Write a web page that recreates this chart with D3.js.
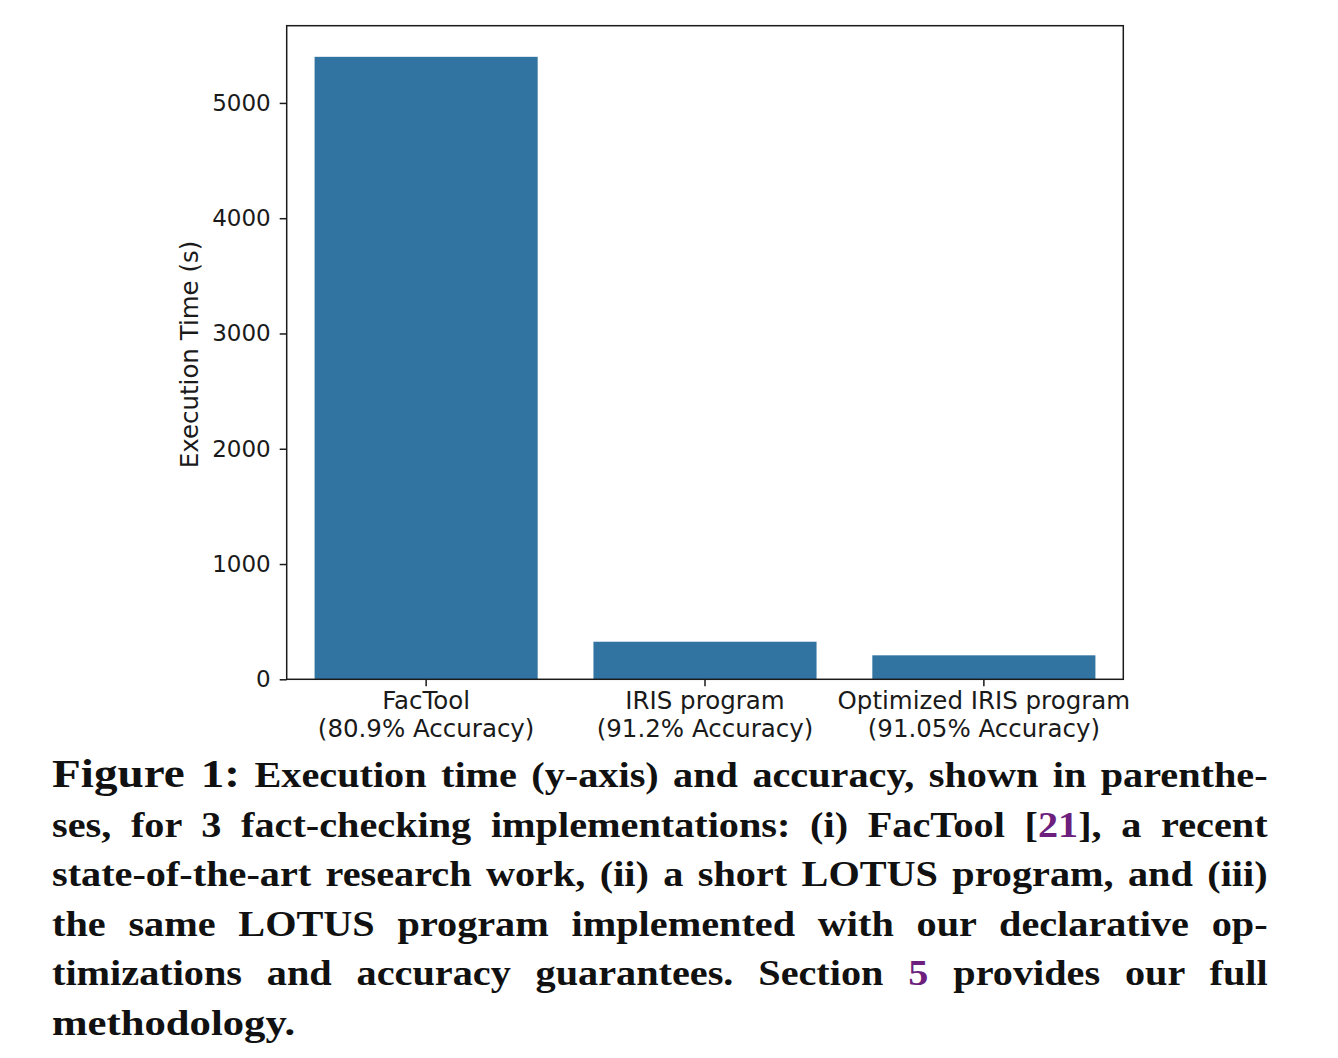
<!DOCTYPE html>
<html>
<head>
<meta charset="utf-8">
<script src="https://cdn.jsdelivr.net/npm/d3@7"></script>
<style>
    body { margin: 0; background: white; }
    svg { display: block; }
</style>
</head>
<body>
<div id="container"></div>
<script>
// chart values
const categories = ["FacTool", "IRIS program", "Optimized IRIS program"]
const accuracies = ["80.9%", "91.2%", "91.05%"]
const execTimes = [5400, 326, 208]
const yTicks = [0, 1000, 2000, 3000, 4000, 5000]

// caption, one entry per printed line; [text, style] pieces
const captionLines = [
    [["Figure 1:", "fig"], [" Execution time (y-axis) and accuracy, shown in parenthe-", ""]],
    [["ses, for 3 fact-checking implementations: (i) FacTool [", ""], ["21", "ref"], ["], a recent", ""]],
    [["state-of-the-art research work, (ii) a short LOTUS program, and (iii)", ""]],
    [["the same LOTUS program implemented with our declarative op-", ""]],
    [["timizations and accuracy guarantees. Section ", ""], ["5", "ref"], [" provides our full", ""]],
    [["methodology.", ""]]
]

const w = 1338
const h = 1058
const plotLeft = 286.7
const plotRight = 1123.3
const plotTop = 25.7
const plotBottom = 679.3
const tickFont = 23
const labelFont = 24.5
const ink = "#1a1a1a"

const svg = d3.select("#container")
    .append("svg")
    .attr("width", w)
    .attr("height", h)
    .style("font-family", "'DejaVu Sans', sans-serif")

const xScale = d3.scaleBand()
    .domain(categories)
    .range([plotLeft, plotRight])
    .paddingInner(0.2)
    .paddingOuter(0.1)

const yScale = d3.scaleLinear()
    .domain([0, d3.max(execTimes) * 1.05])
    .range([plotBottom, plotTop])

const bars = categories.map((c, i) => ({ name: c, acc: accuracies[i], value: execTimes[i] }))

svg.selectAll(null)
    .data(bars)
    .enter()
    .append("rect")
    .attr("x", (d) => xScale(d.name))
    .attr("y", (d) => yScale(d.value))
    .attr("width", xScale.bandwidth())
    .attr("height", (d) => yScale(0) - yScale(d.value))
    .attr("fill", "#3274a1")

// frame
svg.append("rect")
    .attr("x", plotLeft)
    .attr("y", plotTop)
    .attr("width", plotRight - plotLeft)
    .attr("height", plotBottom - plotTop)
    .attr("fill", "none")
    .attr("stroke", ink)
    .attr("stroke-width", 1.5)

const yAxis = d3.axisLeft(yScale)
    .tickValues(yTicks)
    .tickFormat(d3.format("d"))
    .tickSize(7)
    .tickPadding(9)
    .tickSizeOuter(0)

const yG = svg.append("g")
    .attr("transform", `translate(${plotLeft}, 0)`)
    .call(yAxis)
yG.select(".domain").remove()
yG.selectAll(".tick line").attr("stroke", ink).attr("stroke-width", 1.5)
yG.selectAll(".tick text")
    .attr("fill", ink)
    .style("font-size", `${tickFont}px`)
    .style("font-family", "'DejaVu Sans', sans-serif")

const xAxis = d3.axisBottom(xScale)
    .tickSize(7)
    .tickPadding(9)
    .tickSizeOuter(0)
    .tickFormat(() => "")

const xG = svg.append("g")
    .attr("transform", `translate(0, ${plotBottom})`)
    .call(xAxis)
xG.select(".domain").remove()
xG.selectAll(".tick line").attr("stroke", ink).attr("stroke-width", 1.5)
xG.selectAll(".tick text").remove()

// two-line tick labels
const labels = svg.selectAll(null)
    .data(bars)
    .enter()
    .append("text")
    .attr("text-anchor", "middle")
    .attr("fill", ink)
    .style("font-size", `${labelFont}px`)
labels.append("tspan")
    .attr("x", (d) => xScale(d.name) + xScale.bandwidth() / 2)
    .attr("y", 709)
    .text((d) => d.name)
labels.append("tspan")
    .attr("x", (d) => xScale(d.name) + xScale.bandwidth() / 2)
    .attr("y", 737)
    .text((d) => `(${d.acc} Accuracy)`)

svg.append("text")
    .text("Execution Time (s)")
    .attr("text-anchor", "middle")
    .attr("fill", ink)
    .style("font-size", `${labelFont}px`)
    .attr("transform", `translate(198, ${(plotTop + plotBottom) / 2 + 2}) rotate(-90)`)

// caption, justified line by line; the serif is widened a bit to
// stand in for the wider Libertine face of the original
const capLeft = 52
const capRight = 1268
const capTop = 787
const capStep = 49.5
const maxStretch = 1.15

captionLines.forEach((parts, i) => {
    const g = svg.append("g")
    const t = g.append("text")
        .attr("x", 0)
        .attr("y", 0)
        .attr("fill", "#111")
        .style("font-family", "'Liberation Serif', 'Times New Roman', serif")
        .style("font-weight", "bold")
        .style("font-size", "35px")
        .style("white-space", "pre")
    parts.forEach(([txt, kind]) => {
        const s = t.append("tspan").text(txt)
        if (kind === "fig") s.style("font-size", "41px")
        if (kind === "ref") s.attr("fill", "#6d1f7e")
    })
    const natural = t.node().getComputedTextLength()
    const target = capRight - capLeft
    const last = i === captionLines.length - 1
    const sx = last ? 1.22 : Math.min(maxStretch, target / natural)
    if (!last) {
        const full = parts.map((p) => p[0]).join("")
        const spaces = (full.match(/ /g) || []).length
        t.attr("word-spacing", (target / sx - natural) / spaces)
    }
    g.attr("transform", `translate(${capLeft}, ${capTop + i * capStep}) scale(${sx}, 1)`)
})
</script>
</body>
</html>
